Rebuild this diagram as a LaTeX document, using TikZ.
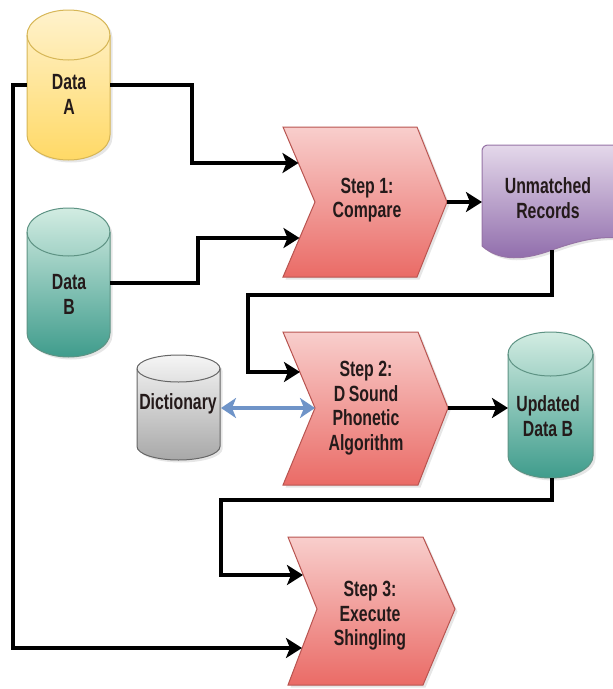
\documentclass[tikz,border=0pt]{standalone}
\usepackage{fontspec}
\setmainfont{Liberation Sans}[FakeStretch=0.72]
\usetikzlibrary{arrows.meta,shadows}
\definecolor{txt}{HTML}{241A1A}
\definecolor{chevT}{HTML}{F8CECC}
\definecolor{chevB}{HTML}{EA6B66}
\definecolor{chevL}{HTML}{B85450}
\definecolor{yelT}{HTML}{FFF2CC}
\definecolor{yelB}{HTML}{FFD966}
\definecolor{yelL}{HTML}{D6B656}
\definecolor{tealT}{HTML}{D2ECE2}
\definecolor{tealB}{HTML}{3F9C8C}
\definecolor{tealL}{HTML}{5E9384}
\definecolor{purT}{HTML}{E4D8EA}
\definecolor{purB}{HTML}{8E6AAA}
\definecolor{purL}{HTML}{9673A6}
\definecolor{grayT}{HTML}{F5F5F5}
\definecolor{grayB}{HTML}{A8A8A8}
\definecolor{grayL}{HTML}{666666}
\definecolor{blueA}{HTML}{6F94C8}
\newcommand\cylshape[6]{% x0, x1, y0, y1, ry, colour prefix
  \pgfmathsetmacro\crx{(#2-#1)/2}
  \path[draw=#6L, line width=1pt, top color=#6T, bottom color=#6B,
        drop shadow={shadow xshift=2.5pt,shadow yshift=-2.5pt,opacity=0.2}]
    (#1,#3+#5) -- (#1,#4-#5)
    arc[start angle=180,end angle=0,x radius=\crx,y radius=#5]
    -- (#2,#3+#5)
    arc[start angle=0,end angle=-180,x radius=\crx,y radius=#5] -- cycle;
  \draw[#6L, line width=1pt] (#1,#3+#5)
    arc[start angle=180,end angle=0,x radius=\crx,y radius=#5];
}
\tikzset{
  conn/.style={line width=3.5pt, draw=black},
  arr/.style={conn, -{Stealth[length=16pt,width=20pt,inset=4pt]}},
  lbl/.style={font=\fontsize{22}{24.5}\selectfont\bfseries, text=txt, align=center, inner sep=0pt},
  chev/.style={draw=chevL, line width=1pt, top color=chevT, bottom color=chevB,
    drop shadow={shadow xshift=2.5pt,shadow yshift=-2.5pt,opacity=0.2}},
}
\begin{document}
\begin{tikzpicture}[x=1pt,y=-1pt]
\useasboundingbox (0,0) rectangle (613,689);

% cylinders
\cylshape{27}{110}{10}{160}{25}{yel}
\cylshape{27}{110}{208}{357}{24}{teal}
\cylshape{137}{220}{355}{460}{13.5}{gray}
\cylshape{508}{593}{332}{478}{22}{teal}

% chevrons
\path[chev] (283,127) -- (417,127) -- (447,202) -- (417,277) -- (283,277) -- (315,202) -- cycle;
\path[chev] (283,332) -- (418,332) -- (448,408) -- (418,485) -- (283,485) -- (315,408) -- cycle;
\path[chev] (288,537) -- (423,537) -- (455,609) -- (423,685) -- (288,685) -- (317,609) -- cycle;

% document shape
\begin{scope}
\clip (0,0) rectangle (613,689);
\path[draw=purL, line width=1pt, top color=purT, bottom color=purB,
      drop shadow={shadow xshift=2.5pt,shadow yshift=-2.5pt,opacity=0.2}]
  (482,240) [rounded corners=6pt] -- (482,145) -- (630,145) [sharp corners] -- (630,240)
  .. controls (605,234) and (580,240) .. (552,250)
  .. controls (525,260) and (500,262) .. (482,246) -- cycle;
\end{scope}

% labels
\node[lbl] (dA) at (69,94.5) {Data\\A};
\node[lbl] (dB) at (69,294.5) {Data\\B};
\node[lbl] (s1) at (367,200) {Step 1:\\Compare};
\node[lbl] (um) at (548,198) {Unmatched\\Records};
\node[lbl] (s2) at (366,408) {Step 2:\\D\,Sound\\Phonetic\\Algorithm};
\node[lbl] (dict) at (178,404) {Dictionary};
\node[lbl] (ub) at (548,416) {Updated\\Data B};
\node[lbl] (s3) at (370,616) {Step 3:\\Execute\\Shingling};

% connection points
\coordinate (dA-e) at (110,85);
\coordinate (dA-w) at (27,85);
\coordinate (dB-e) at (110,283);
\coordinate (s1-in1) at (298.5,163);
\coordinate (s1-in2) at (299.5,238);
\coordinate (s1-tip) at (447,202);
\coordinate (um-w) at (482,202);
\coordinate (um-s) at (552,250);
\coordinate (s2-in) at (300,372);
\coordinate (s2-tip) at (448,408);
\coordinate (s2-notch) at (315,408);
\coordinate (dict-e) at (221,408);
\coordinate (ub-w) at (508,408);
\coordinate (ub-s) at (552,478);
\coordinate (s3-in1) at (303,575);
\coordinate (s3-in2) at (302,648);

% connectors
\draw[arr] (dA-e) -- ++(82,0) |- (s1-in1);
\draw[arr] (dB-e) -- ++(88,0) |- (s1-in2);
\draw[arr] (dA-w) -- ++(-14,0) |- (s3-in2);
\draw[arr] (s1-tip) -- (um-w);
\draw[arr] (um-s) -- ++(0,45) -- ++(-304,0) |- (s2-in);
\draw[arr] (s2-tip) -- (ub-w);
\draw[arr] (ub-s) -- ++(0,22) -- ++(-331,0) |- (s3-in1);
\draw[draw=blueA, line width=4pt,
  {Stealth[length=15pt,width=20pt,inset=4pt]}-{Stealth[length=15pt,width=20pt,inset=4pt]}]
  (dict-e) -- (s2-notch);
\end{tikzpicture}
\end{document}
